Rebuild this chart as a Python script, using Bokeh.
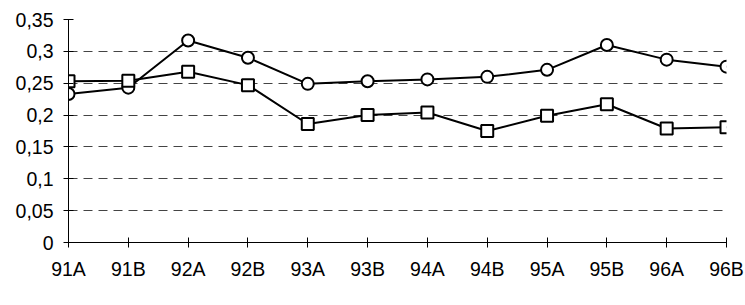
from bokeh.plotting import figure
from bokeh.models import FixedTicker, Range1d, Legend, LegendItem
from bokeh.embed import file_html
from bokeh.resources import INLINE

categories = ["91A", "91B", "92A", "92B", "93A", "93B", "94A", "94B", "95A", "95B", "96A", "96B"]
sei = [0.233, 0.243, 0.317, 0.290, 0.249, 0.253, 0.256, 0.260, 0.271, 0.310, 0.287, 0.276]
kon = [0.253, 0.254, 0.268, 0.247, 0.186, 0.200, 0.204, 0.175, 0.199, 0.217, 0.179, 0.181]
y_ticks = [0, 0.05, 0.1, 0.15, 0.2, 0.25, 0.3, 0.35]
y_labels = ["0", "0,05", "0,1", "0,15", "0,2", "0,25", "0,3", "0,35"]
series_names = ["SEI I vs SEI VII", "Män vs Kvinnor"]

FONT = "Liberation Sans"
FS = "19.5px"

xs = list(range(len(categories)))

p = figure(frame_width=658, frame_height=223, output_backend="svg", toolbar_location=None,
           x_range=Range1d(0, len(categories) - 1), y_range=Range1d(0, 0.35),
           min_border_left=68, min_border_right=19, min_border_top=19, min_border_bottom=63)
p.outline_line_color = None
p.background_fill_color = "white"
p.border_fill_color = "white"

# axes
p.xaxis.ticker = FixedTicker(ticks=xs)
p.xaxis.major_label_overrides = {i: c for i, c in zip(xs, categories)}
p.yaxis.ticker = FixedTicker(ticks=y_ticks)
p.yaxis.major_label_overrides = {t: l for t, l in zip(y_ticks, y_labels)}
for ax in (p.xaxis, p.yaxis):
    ax.axis_line_color = "black"
    ax.axis_line_width = 1
    ax.major_tick_line_color = "black"
    ax.major_tick_in = 5
    ax.major_tick_out = 5
    ax.minor_tick_line_color = None
    ax.major_label_text_font = FONT
    ax.major_label_text_font_size = FS
    ax.major_label_text_color = "black"
p.yaxis.major_label_standoff = 10
p.xaxis.major_label_standoff = 10

p.xgrid.grid_line_color = None
p.ygrid.grid_line_color = "#444444"
p.ygrid.grid_line_dash = "9 6"
p.ygrid.grid_line_width = 1

l1 = p.line(xs, sei, line_color="black", line_width=2)
m1 = p.scatter(xs, sei, marker="circle", size=12, fill_color="white", line_color="black", line_width=2)
l2 = p.line(xs, kon, line_color="black", line_width=2)
m2 = p.scatter(xs, kon, marker="square", size=12, fill_color="white", line_color="black", line_width=2)

legend = Legend(items=[LegendItem(label=series_names[0], renderers=[l1, m1]),
                       LegendItem(label=series_names[1], renderers=[l2, m2])],
                location="top_center", orientation="horizontal")
legend.label_text_font = FONT
legend.label_text_font_size = FS
legend.label_text_color = "black"
legend.glyph_width = 54
legend.glyph_height = 26
legend.label_standoff = 4
legend.spacing = 11
legend.padding = 0
legend.margin = 0
legend.border_line_color = None
legend.background_fill_alpha = 0
p.add_layout(legend, "below")

open("out.html", "w").write(file_html(p, INLINE))
